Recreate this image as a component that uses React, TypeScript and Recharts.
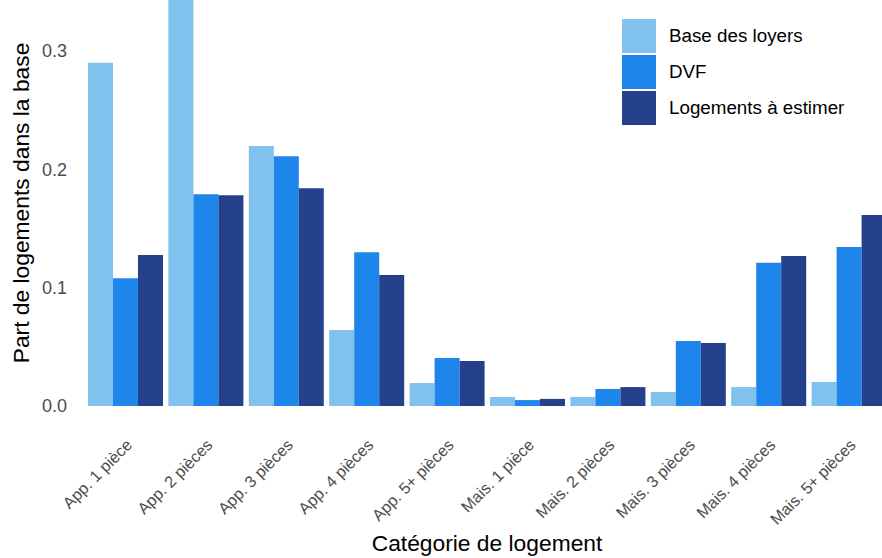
import React from 'react';
import { BarChart, Bar, XAxis, YAxis, Legend } from 'recharts';

const categories = [
  'App. 1 pièce', 'App. 2 pièces', 'App. 3 pièces', 'App. 4 pièces', 'App. 5+ pièces',
  'Mais. 1 pièce', 'Mais. 2 pièces', 'Mais. 3 pièces', 'Mais. 4 pièces', 'Mais. 5+ pièces',
];
const baseLoyers = [0.290, 0.360, 0.2197, 0.0642, 0.0194, 0.0076, 0.0076, 0.0118, 0.016, 0.0203];
const dvf = [0.108, 0.179, 0.211, 0.130, 0.0406, 0.005, 0.0144, 0.055, 0.121, 0.1344];
const logements = [0.1276, 0.178, 0.184, 0.1107, 0.038, 0.006, 0.016, 0.0532, 0.1268, 0.1614];
const yTicks = [0, 0.1, 0.2, 0.3];
const seriesNames = ['Base des loyers', 'DVF', 'Logements à estimer'];
const colors = ['#80c1ee', '#1e86eb', '#26418b'];

const data = categories.map((c, i) => ({
  cat: c,
  base: baseLoyers[i],
  dvf: dvf[i],
  log: logements[i],
}));

const FONT = '"Liberation Sans", Arial, sans-serif';

const XTick = (props: any) => {
  const { x, y, payload } = props;
  return (
    <g transform={`translate(${x + 8},${y + 32})`}>
      <text
        x={0}
        y={0}
        transform="rotate(-45)"
        textAnchor="end"
        fill="#4d4d4d"
        fontSize={16.2}
        fontFamily={FONT}
      >
        {payload.value}
      </text>
    </g>
  );
};

const renderLegend = () => (
  <div style={{ fontFamily: FONT }}>
    {seriesNames.map((n, i) => (
      <div key={n} style={{ display: 'flex', alignItems: 'center', height: 34, marginBottom: 2 }}>
        <div style={{ width: 34, height: 34, background: colors[i] }} />
        <span style={{ marginLeft: 13, fontSize: 18.8, color: '#000', whiteSpace: 'nowrap' }}>{n}</span>
      </div>
    ))}
  </div>
);

export default function App() {
  return (
    <div style={{ position: 'absolute', top: 0, left: 0, width: 882, height: 558, overflow: 'hidden', background: '#fff' }}>
      <BarChart
        width={902}
        height={558}
        data={data}
        margin={{ top: 0, right: 13, bottom: 0, left: 0 }}
        barCategoryGap={3}
        barGap={0}
      >
        <XAxis
          dataKey="cat"
          height={152}
          axisLine={false}
          tickLine={false}
          interval={0}
          tick={<XTick />}
          label={{
            value: 'Catégorie de logement',
            position: 'insideBottom',
            offset: 7,
            fill: '#000',
            fontSize: 22.8,
            fontFamily: FONT,
          }}
        />
        <YAxis
          width={85}
          domain={[0, 0.3431]}
          allowDataOverflow
          ticks={yTicks}
          axisLine={false}
          tickLine={false}
          tickMargin={12}
          tickFormatter={(v: number) => v.toFixed(1)}
          tick={{ fill: '#4d4d4d', fontSize: 18, fontFamily: FONT }}
          label={{
            content: (p: any) => {
              const vb = p.viewBox || { x: 0, y: 0, width: 85, height: 406 };
              const cy = vb.y + vb.height / 2;
              const cx = 29;
              return (
                <text
                  x={cx}
                  y={cy}
                  transform={`rotate(-90, ${cx}, ${cy})`}
                  textAnchor="middle"
                  fill="#000"
                  fontSize={22.8}
                  fontFamily={FONT}
                >
                  Part de logements dans la base
                </text>
              );
            },
          }}
        />
        <Legend
          layout="horizontal"
          verticalAlign="middle"
          align="center"
          content={renderLegend}
          wrapperStyle={{ position: 'absolute', top: 19, left: 622, width: 260, height: 110 }}
        />
        <Bar dataKey="base" name={seriesNames[0]} fill={colors[0]} isAnimationActive={false} />
        <Bar dataKey="dvf" name={seriesNames[1]} fill={colors[1]} isAnimationActive={false} />
        <Bar dataKey="log" name={seriesNames[2]} fill={colors[2]} isAnimationActive={false} />
      </BarChart>
    </div>
  );
}
